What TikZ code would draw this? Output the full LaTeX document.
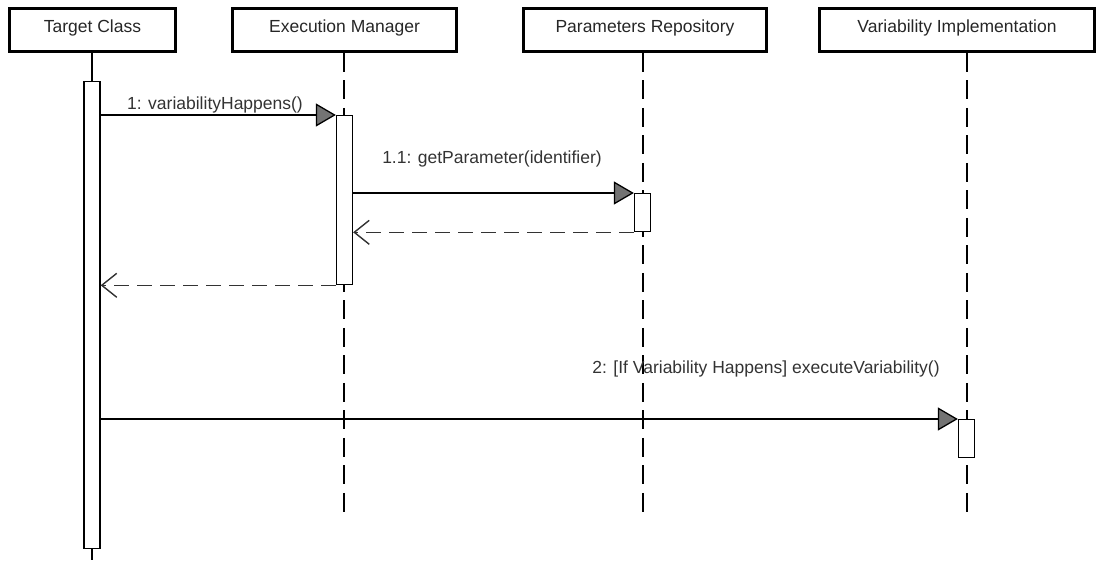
\documentclass[tikz,border=0pt]{standalone}
\usepackage{fontspec}
\setmainfont{Liberation Sans}
\usetikzlibrary{arrows.meta}
\begin{document}
\begin{tikzpicture}[x=1pt,y=-1pt,
  font=\fontsize{17.5}{21}\selectfont,
  obj/.style={draw, line width=2.8pt, minimum height=43pt, inner sep=0pt, text=black!85, text height=12.5pt, text depth=8.5pt},
  life/.style={line width=1.3pt, dash pattern=on 19pt off 8.5pt},
  solidlife/.style={line width=1.3pt},
  act/.style={draw, fill=white, line width=1.3pt, minimum width=16pt, inner sep=0pt, anchor=north},
  msg/.style={line width=1.3pt, -{Triangle[length=20pt,width=23pt,fill=black!55,line join=miter]}},
  ret/.style={line width=1.4pt, draw=black!80, dash pattern=on 15pt off 8pt, -{Straight Barb[length=15pt,width=24pt]}},
  lbl/.style={anchor=base, inner sep=0pt, text=black!80}
]
\useasboundingbox (0,0) rectangle (1105,560);

% object boxes
\node[obj, minimum width=166pt] (tc) at (92.5,30) {Target Class};
\node[obj, minimum width=224pt] (em) at (344.5,30) {Execution Manager};
\node[obj, minimum width=243pt] (pr) at (645,30) {Parameters Repository};
\node[obj, minimum width=275pt] (vi) at (957,30) {Variability Implementation};

% lifeline ends
\coordinate (tcend) at (92,560);
\coordinate (emend) at (344,512);
\coordinate (prend) at (643,512);
\coordinate (viend) at (967,512);

% lifelines
\draw[solidlife] (tc.south -| tcend) -- (tcend);
\draw[life] (em.south -| emend) -- (emend);
\draw[life] (pr.south -| prend) -- (prend);
\draw[life] (vi.south -| viend) -- (viend);

% activations
\node[act, minimum height=467pt] (tca) at (92,81) {};
\node[act, minimum height=169pt] (ema) at (344.5,115) {};
\node[act, minimum height=38pt] (pra) at (642.5,193) {};
\node[act, minimum height=38pt] (via) at (966.5,419) {};

% messages
\draw[msg] (tca.east |- ema.north) -- (ema.north west);
\node[lbl] (l1) at (215,109) {1: variabilityHappens()};

\draw[msg] (ema.east |- pra.north) -- (pra.north west);
\node[lbl] (l11) at (492,163) {1.1: getParameter(identifier)};

\draw[ret] (pra.south west) -- (ema.east |- pra.south west);
\draw[ret] (ema.south west) -- (tca.east |- ema.south west);

\draw[msg] (tca.east |- via.north) -- (via.north west);
\node[lbl] (l2) at (766,373) {2: [If Variability Happens] executeVariability()};
\end{tikzpicture}
\end{document}
